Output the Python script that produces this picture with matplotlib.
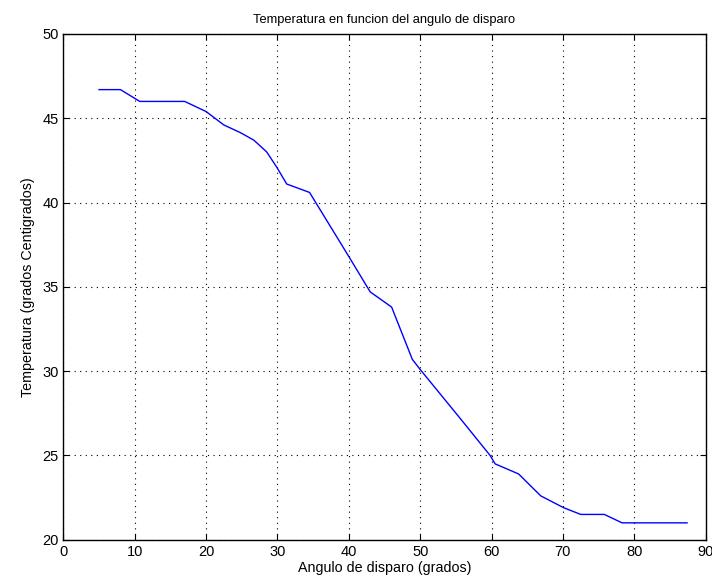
import matplotlib.pyplot as plt

plt.rcParams['font.family'] = ['Liberation Sans', 'DejaVu Sans']

angulo = [5.0, 8.0, 10.7, 17.0, 20.0, 22.5, 24.8, 26.7, 28.5, 29.9, 31.3, 34.5,
          40.0, 43.0, 46.0, 48.9, 50.0, 55.6, 59.8, 60.5, 63.8, 66.9, 70.1,
          72.5, 75.8, 78.3, 87.4]
temperatura = [46.7, 46.7, 46.0, 46.0, 45.4, 44.6, 44.15, 43.7, 43.0, 42.1, 41.1, 40.6,
               36.8, 34.7, 33.8, 30.7, 30.1, 27.2, 25.0, 24.5, 23.9, 22.6, 21.9,
               21.5, 21.5, 21.0, 21.0]

fig = plt.figure(figsize=(7.12, 5.86), dpi=100)
ax = fig.add_axes([0.089, 0.079, 0.902, 0.863])
ax.plot(angulo, temperatura, color='#0000ff', linewidth=1.0)
ax.set_xlim(0, 90)
ax.set_ylim(20, 50)
ax.set_xticks(range(0, 91, 10))
ax.set_yticks(range(20, 51, 5))
ax.grid(True, color='black', linestyle=(0, (1, 4)), linewidth=0.8)
ax.tick_params(direction='in', top=True, right=True, labelsize=10.5, length=4)
for s in ax.spines.values():
    s.set_linewidth(1.0)
ax.set_title('Temperatura en funcion del angulo de disparo', fontsize=9.3, pad=8)
ax.set_xlabel('Angulo de disparo (grados)', fontsize=10.3, labelpad=2)
ax.set_ylabel('Temperatura (grados Centigrados)', fontsize=10.3, labelpad=5)
fig.savefig('out.png', dpi=100)
